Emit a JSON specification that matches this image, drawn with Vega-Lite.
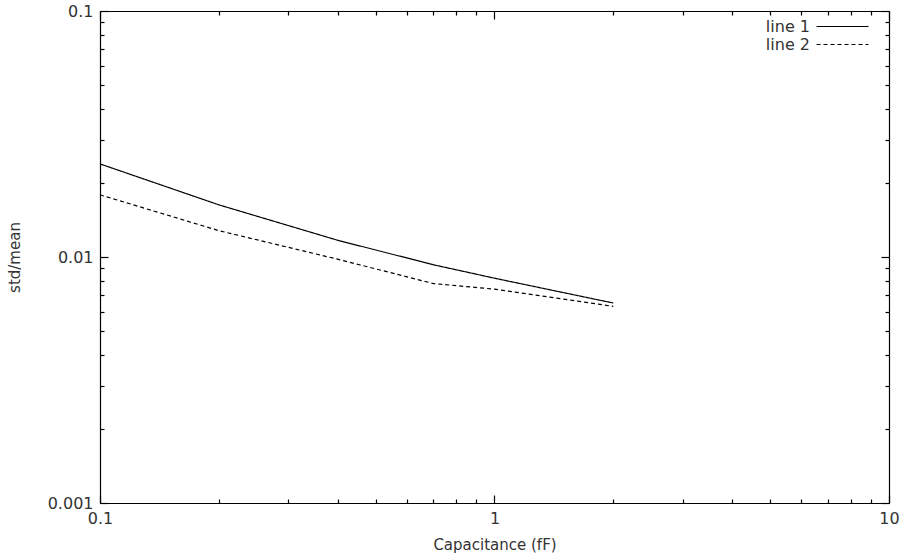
{
  "$schema": "https://vega.github.io/schema/vega-lite/v6.json",
  "width": 789,
  "height": 492,
  "autosize": {"type": "none"},
  "padding": {"left": 100, "top": 11, "right": 15, "bottom": 53},
  "background": "white",
  "config": {
    "font": "DejaVu Sans",
    "view": {"stroke": null},
    "axis": {
      "labelFont": "DejaVu Sans",
      "titleFont": "DejaVu Sans",
      "labelFontSize": 16,
      "titleFontSize": 15,
      "titleFontWeight": "normal",
      "labelColor": "#333",
      "titleColor": "#333",
      "domainColor": "#000",
      "domainWidth": 1.2,
      "tickColor": "#000",
      "tickWidth": 1.2,
      "grid": false
    }
  },
  "data": {
    "values": [
      {"c": 0.1, "v": 0.0239, "s": "line 1"},
      {"c": 0.2, "v": 0.0163, "s": "line 1"},
      {"c": 0.4, "v": 0.0117, "s": "line 1"},
      {"c": 0.7, "v": 0.0093, "s": "line 1"},
      {"c": 1, "v": 0.0082, "s": "line 1"},
      {"c": 2, "v": 0.0065, "s": "line 1"},
      {"c": 0.1, "v": 0.0179, "s": "line 2"},
      {"c": 0.2, "v": 0.0128, "s": "line 2"},
      {"c": 0.4, "v": 0.0098, "s": "line 2"},
      {"c": 0.7, "v": 0.0078, "s": "line 2"},
      {"c": 1, "v": 0.0074, "s": "line 2"},
      {"c": 2, "v": 0.0063, "s": "line 2"}
    ]
  },
  "layer": [
    {
      "mark": {"type": "line", "color": "#000", "strokeWidth": 1.2},
      "encoding": {
        "x": {
          "field": "c", "type": "quantitative",
          "scale": {"type": "log", "domain": [0.1, 10], "nice": false},
          "axis": {
            "title": "Capacitance (fF)",
            "values": [0.1,0.2,0.3,0.4,0.5,0.6,0.7,0.8,0.9,1,2,3,4,5,6,7,8,9,10],
            "labelExpr": "abs(log(datum.value)/LN10 - round(log(datum.value)/LN10)) < 1e-6 ? toString(datum.value) : ''",
            "tickSize": {"condition": {"test": "abs(log(datum.value)/LN10 - round(log(datum.value)/LN10)) < 1e-6", "value": -8}, "value": -4},
            "labelPadding": 15,
            "titlePadding": 7,
            "labelFlush": false,
            "labelOverlap": false
          }
        },
        "y": {
          "field": "v", "type": "quantitative",
          "scale": {"type": "log", "domain": [0.001, 0.1], "nice": false},
          "axis": {
            "title": "std/mean",
            "values": [0.001,0.002,0.003,0.004,0.005,0.006,0.007,0.008,0.009,0.01,0.02,0.03,0.04,0.05,0.06,0.07,0.08,0.09,0.1],
            "labelExpr": "abs(log(datum.value)/LN10 - round(log(datum.value)/LN10)) < 1e-6 ? toString(datum.value) : ''",
            "tickSize": {"condition": {"test": "abs(log(datum.value)/LN10 - round(log(datum.value)/LN10)) < 1e-6", "value": -8}, "value": -4},
            "labelPadding": 15,
            "titlePadding": 25,
            "labelFlush": false,
            "labelOverlap": false
          }
        },
        "strokeDash": {
          "field": "s", "type": "nominal",
          "scale": {"domain": ["line 1", "line 2"], "range": [[1, 0], [4, 3]]},
          "legend": {
            "title": null,
            "orient": "none",
            "legendX": 733,
            "legendY": 6,
            "padding": 0,
            "symbolType": "M-3,0H3",
            "symbolSize": 300,
            "symbolStrokeColor": "#000",
            "symbolStrokeWidth": 1.2,
            "labelAlign": "right",
            "labelOffset": -42,
            "labelFont": "DejaVu Sans",
            "labelFontSize": 16,
            "labelColor": "#333",
            "rowPadding": -4
          }
        }
      }
    },
    {
      "mark": {"type": "line", "opacity": 0},
      "encoding": {
        "x": {
          "field": "c", "type": "quantitative",
          "scale": {"type": "log", "domain": [0.1, 10], "nice": false},
          "axis": {
            "orient": "top", "title": null, "labels": false,
            "values": [0.1,0.2,0.3,0.4,0.5,0.6,0.7,0.8,0.9,1,2,3,4,5,6,7,8,9,10],
            "tickSize": {"condition": {"test": "abs(log(datum.value)/LN10 - round(log(datum.value)/LN10)) < 1e-6", "value": -8}, "value": -4}
          }
        },
        "y": {
          "field": "v", "type": "quantitative",
          "scale": {"type": "log", "domain": [0.001, 0.1], "nice": false},
          "axis": {
            "orient": "right", "title": null, "labels": false,
            "values": [0.001,0.002,0.003,0.004,0.005,0.006,0.007,0.008,0.009,0.01,0.02,0.03,0.04,0.05,0.06,0.07,0.08,0.09,0.1],
            "tickSize": {"condition": {"test": "abs(log(datum.value)/LN10 - round(log(datum.value)/LN10)) < 1e-6", "value": -8}, "value": -4}
          }
        },
        "detail": {"field": "s"}
      }
    }
  ],
  "resolve": {"scale": {"x": "independent", "y": "independent"}, "axis": {"x": "independent", "y": "independent"}}
}
